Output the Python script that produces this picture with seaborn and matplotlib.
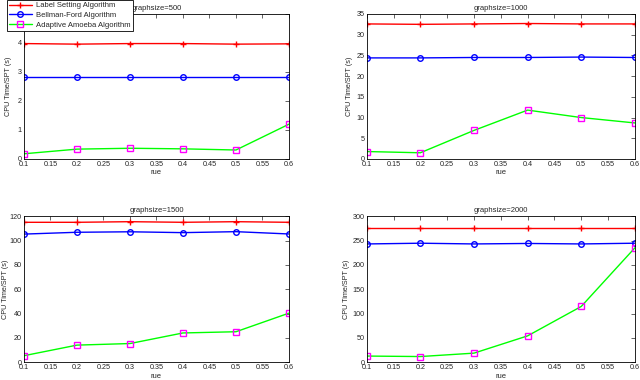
import numpy as np
import pandas as pd
import matplotlib
matplotlib.use("Agg")
import matplotlib.pyplot as plt
import seaborn as sns

# datos
rue = [0.1, 0.2, 0.3, 0.4, 0.5, 0.6]
titulos = ["graphsize=500", "graphsize=1000", "graphsize=1500", "graphsize=2000"]
series = ["Label Setting Algorithm", "Bellman-Ford Algorithm", "Adaptive Amoeba Algorithm"]

label_500 = [3.98, 3.96, 3.98, 3.98, 3.96, 3.97]
bellman_500 = [2.83, 2.83, 2.83, 2.83, 2.83, 2.83]
amoeba_500 = [0.18, 0.34, 0.37, 0.35, 0.31, 1.2]

label_1000 = [32.6, 32.5, 32.6, 32.7, 32.6, 32.6]
bellman_1000 = [24.4, 24.4, 24.5, 24.5, 24.6, 24.5]
amoeba_1000 = [1.8, 1.5, 6.9, 11.8, 10.0, 8.7]

label_1500 = [115, 115, 115.5, 115, 115.5, 115]
bellman_1500 = [105.3, 106.8, 107.2, 106.5, 107.3, 105.4]
amoeba_1500 = [5.3, 14.0, 15.3, 24.0, 25.0, 40.3]

label_2000 = [275, 275, 275, 275, 275, 275]
bellman_2000 = [243, 244.5, 243, 244, 243, 244.5]
amoeba_2000 = [12.5, 11.5, 18.5, 54, 114.5, 235]

ylims = [(0, 5), (0, 35), (0, 120), (0, 300)]
yticks = [np.arange(0, 6, 1), np.arange(0, 40, 5), np.arange(0, 140, 20), np.arange(0, 350, 50)]

datos = [
    (label_500, bellman_500, amoeba_500),
    (label_1000, bellman_1000, amoeba_1000),
    (label_1500, bellman_1500, amoeba_1500),
    (label_2000, bellman_2000, amoeba_2000),
]

sns.set_style("white")
plt.rcParams["font.family"] = ["Liberation Sans", "DejaVu Sans"]
plt.rcParams["font.size"] = 5.5

fig = plt.figure(figsize=(6.4, 3.8), dpi=100)

posiciones = [
    [0.0375, 0.5816, 0.414, 0.3816],
    [0.573, 0.5816, 0.419, 0.3816],
    [0.0375, 0.047, 0.414, 0.384],
    [0.573, 0.047, 0.419, 0.384],
]
# posicion x de la etiqueta del eje y (coordenadas del eje)
ylabel_x = [-0.045, -0.052, -0.058, -0.063]

estilos = [
    dict(color="red", marker="+", markersize=5, markeredgecolor="red",
         markeredgewidth=1.0),
    dict(color="blue", marker="o", markersize=4, markerfacecolor="none",
         markeredgecolor="blue", markeredgewidth=1.0),
    dict(color="#00ff00", marker="s", markersize=4, markerfacecolor="none",
         markeredgecolor="magenta", markeredgewidth=1.0),
]

for i in range(4):
    ax = fig.add_axes(posiciones[i])
    for nombre, valores, est in zip(series, datos[i], estilos):
        sns.lineplot(x=rue, y=valores, ax=ax, label=nombre, linewidth=1.0, **est)
    ax.set_xlim(0.1, 0.6)
    ax.set_ylim(*ylims[i])
    ax.set_xticks(np.arange(0.1, 0.61, 0.05))
    ax.set_xticklabels(["0.1", "0.15", "0.2", "0.25", "0.3", "0.35",
                        "0.4", "0.45", "0.5", "0.55", "0.6"])
    ax.set_yticks(yticks[i])
    ax.set_title(titulos[i], fontsize=5.5, pad=3)
    ax.set_xlabel("rue", fontsize=5.5, labelpad=1)
    ax.set_ylabel("CPU Time/SPT (s)", fontsize=5.2)
    ax.yaxis.set_label_coords(ylabel_x[i], 0.5)
    ax.tick_params(direction="in", length=3, width=0.5, labelsize=5.2,
                   top=True, right=True, pad=1.5)
    for s in ax.spines.values():
        s.set_linewidth(0.6)
        s.set_color("black")
    ax.get_legend().remove()
    if i == 0:
        handles, labels = ax.get_legend_handles_labels()

leg = fig.legend(handles, labels, loc="upper left", bbox_to_anchor=(0.008, 1.005),
                 fancybox=False, framealpha=1, edgecolor="black", fontsize=5.5,
                 handlelength=3, borderpad=0.3, labelspacing=0.3, handletextpad=0.6,
                 borderaxespad=0.2)
leg.get_frame().set_linewidth(0.6)

fig.savefig("out.png", dpi=100)
